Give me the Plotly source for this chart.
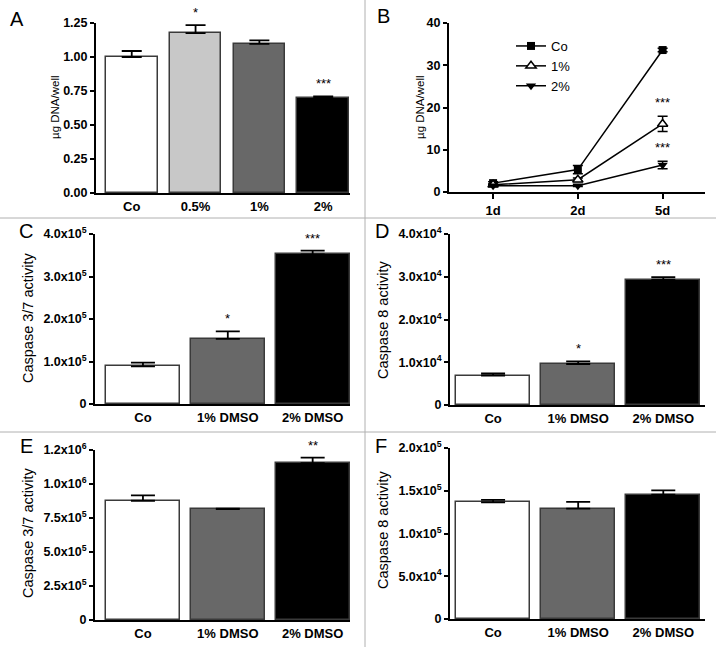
import plotly.graph_objects as go

W, H = 716, 647
FONT = "Liberation Sans, Arial, sans-serif"

# ---------- data ----------
a_cats = ["Co", "0.5%", "1%", "2%"]
a_vals = [1.00, 1.176, 1.096, 0.697]
a_err = [0.044, 0.059, 0.026, 0.014]
a_sig = ["", "*", "", "***"]
a_colors = ["#ffffff", "#c8c8c8", "#686868", "#000000"]

b_days = ["1d", "2d", "5d"]
b_co = [2.1, 5.3, 33.6]
b_co_err = [0.3, 1.0, 0.4]
b_1 = [1.7, 2.9, 16.1]
b_1_err = [0.2, 0.4, 1.8]
b_2 = [1.5, 1.5, 6.4]
b_2_err = [0.2, 0.2, 0.9]
b_sig_1 = ["", "", "***"]
b_sig_2 = ["", "", "***"]

cd_cats = ["Co", "1% DMSO", "2% DMSO"]
cd_colors = ["#ffffff", "#686868", "#000000"]

c_vals = [0.885e5, 1.534e5, 3.52e5]
c_err = [0.09e5, 0.175e5, 0.09e5]
c_sig = ["", "*", "***"]

d_vals = [0.69e4, 0.959e4, 2.93e4]
d_err = [0.05e4, 0.06e4, 0.06e4]
d_sig = ["", "*", "***"]

e_vals = [0.877e6, 0.816e6, 1.154e6]
e_err = [0.04e6, 0.003e6, 0.04e6]
e_sig = ["", "", "**"]

f_vals = [1.365e5, 1.29e5, 1.454e5]
f_err = [0.028e5, 0.08e5, 0.05e5]
f_sig = ["", "", ""]

a_ticks = [0, 0.25, 0.5, 0.75, 1.0, 1.25]
a_ticktext = ["0.00", "0.25", "0.50", "0.75", "1.00", "1.25"]
b_ticks = [0, 10, 20, 30, 40]
c_ticks = [0, 1e5, 2e5, 3e5, 4e5]
c_ticktext = ["0", "1.0x10<sup>5</sup>", "2.0x10<sup>5</sup>", "3.0x10<sup>5</sup>", "4.0x10<sup>5</sup>"]
d_ticks = [0, 1e4, 2e4, 3e4, 4e4]
d_ticktext = ["0", "1.0x10<sup>4</sup>", "2.0x10<sup>4</sup>", "3.0x10<sup>4</sup>", "4.0x10<sup>4</sup>"]
e_ticks = [0, 2.5e5, 5e5, 7.5e5, 1e6, 1.25e6]
e_ticktext = ["0", "2.5x10<sup>5</sup>", "5.0x10<sup>5</sup>", "7.5x10<sup>5</sup>", "1.0x10<sup>6</sup>", "1.2x10<sup>6</sup>"]
f_ticks = [0, 5e4, 1e5, 1.5e5, 2e5]
f_ticktext = ["0", "5.0x10<sup>4</sup>", "1.0x10<sup>5</sup>", "1.5x10<sup>5</sup>", "2.0x10<sup>5</sup>"]

# ---------- layout helpers ----------
def xd(x0, x1):
    return [x0 / W, x1 / W]

def yd(top, bottom):
    return [1 - bottom / H, 1 - top / H]

# panel: (x-left, x-right, y-top, y-bottom) in px
panels = {
    "A": (96, 350, 23, 193),
    "B": (449, 705, 23, 192),
    "C": (95, 350, 234, 404),
    "D": (450, 705, 234, 405),
    "E": (95, 350, 450, 620),
    "F": (450, 705, 448, 619),
}

fig = go.Figure()
annotations = []
SIGFONT = dict(family=FONT, size=13, color="#000")

def bar_panel(idx, cats, vals, errs, colors, sig, width, capw):
    ax = "" if idx == 1 else str(idx)
    fig.add_trace(go.Bar(
        x=cats, y=vals, width=width,
        marker=dict(color=colors, line=dict(color="#3a3a3a", width=1.5)),
        error_y=dict(type="data", array=errs, arrayminus=[0] * len(errs),
                     color="#000000", thickness=1.8, width=capw, visible=True),
        xaxis="x" + ax, yaxis="y" + ax, showlegend=False,
    ))
    for c, v, e, s in zip(cats, vals, errs, sig):
        if s:
            annotations.append(dict(x=c, y=v + e, xref="x" + ax, yref="y" + ax,
                                    text=s, showarrow=False, yanchor="bottom", yshift=3,
                                    font=SIGFONT))

bar_panel(1, a_cats, a_vals, a_err, a_colors, a_sig, 0.81, 10)
bar_panel(3, cd_cats, c_vals, c_err, cd_colors, c_sig, 0.87, 12)
bar_panel(4, cd_cats, d_vals, d_err, cd_colors, d_sig, 0.87, 12)
bar_panel(5, cd_cats, e_vals, e_err, cd_colors, e_sig, 0.87, 12)
bar_panel(6, cd_cats, f_vals, f_err, cd_colors, f_sig, 0.87, 12)

# panel B lines
line_style = dict(color="#000000", width=1.5)
fig.add_trace(go.Scatter(x=b_days, y=b_co, name="Co", mode="lines+markers",
                         line=line_style, marker=dict(symbol="square", size=8, color="#000"),
                         error_y=dict(type="data", array=b_co_err, color="#000", thickness=1.5, width=5),
                         xaxis="x2", yaxis="y2"))
fig.add_trace(go.Scatter(x=b_days, y=b_1, name="1%", mode="lines+markers",
                         line=line_style,
                         marker=dict(symbol="triangle-up", size=9, color="#fff", line=dict(color="#000", width=1.5)),
                         error_y=dict(type="data", array=b_1_err, color="#000", thickness=1.5, width=5),
                         xaxis="x2", yaxis="y2"))
fig.add_trace(go.Scatter(x=b_days, y=b_2, name="2%", mode="lines+markers",
                         line=line_style, marker=dict(symbol="triangle-down", size=9, color="#000"),
                         error_y=dict(type="data", array=b_2_err, color="#000", thickness=1.5, width=5),
                         xaxis="x2", yaxis="y2"))
for vals_, errs_, sig_ in ((b_1, b_1_err, b_sig_1), (b_2, b_2_err, b_sig_2)):
    for d, v, e, s in zip(b_days, vals_, errs_, sig_):
        if s:
            annotations.append(dict(x=d, y=v + e, xref="x2", yref="y2", text=s, showarrow=False,
                                    yanchor="bottom", yshift=4, font=SIGFONT))

xtickfont = dict(family=FONT, size=13, color="#000", weight="bold")
ytickfont = dict(family=FONT, size=12.5, color="#000", weight="bold")

def x_axis(p, rng, anchor, ticks=False):
    x0, x1, t, b = panels[p]
    return dict(domain=xd(x0, x1), anchor=anchor, range=rng, showline=True, linecolor="#000",
                linewidth=2, ticks="outside" if ticks else "", ticklen=5 if ticks else 0,
                tickwidth=2, tickcolor="#000", tickfont=xtickfont, showgrid=False,
                zeroline=False, fixedrange=True, automargin=False)

def y_axis(p, rng, anchor, tv, tt=None):
    x0, x1, t, b = panels[p]
    d = dict(domain=yd(t, b), anchor=anchor, range=rng, showline=True, linecolor="#000",
             linewidth=2, ticks="outside", ticklen=4, tickwidth=2, tickcolor="#000",
             tickfont=ytickfont, showgrid=False, zeroline=False, tickmode="array",
             tickvals=tv, fixedrange=True, automargin=False)
    if tt is not None:
        d["ticktext"] = tt
    return d

layout = dict(
    width=W, height=H, margin=dict(l=0, r=0, t=0, b=0, pad=0, autoexpand=False),
    paper_bgcolor="#fff", plot_bgcolor="rgba(0,0,0,0)",
    font=dict(family=FONT, color="#000"),
    bargap=0,
    legend=dict(x=511 / W, y=1 - 31 / H, xanchor="left", yanchor="top",
                bgcolor="rgba(0,0,0,0)", font=dict(family=FONT, size=13, color="#000"),
                itemwidth=30, tracegroupgap=4),
    xaxis=x_axis("A", [-0.56, 3.42], "y"),
    xaxis2=x_axis("B", [-0.52, 2.5], "y2", ticks=True),
    xaxis3=x_axis("C", [-0.565, 2.44], "y3"),
    xaxis4=x_axis("D", [-0.506, 2.49], "y4"),
    xaxis5=x_axis("E", [-0.565, 2.44], "y5"),
    xaxis6=x_axis("F", [-0.506, 2.49], "y6"),
    yaxis=y_axis("A", [0, 1.25], "x", a_ticks, a_ticktext),
    yaxis2=y_axis("B", [0, 40], "x2", b_ticks),
    yaxis3=y_axis("C", [0, 4e5], "x3", c_ticks, c_ticktext),
    yaxis4=y_axis("D", [0, 4e4], "x4", d_ticks, d_ticktext),
    yaxis5=y_axis("E", [0, 1.25e6], "x5", e_ticks, e_ticktext),
    yaxis6=y_axis("F", [0, 2e5], "x6", f_ticks, f_ticktext),
)

# axis titles (rotated)
titles = [
    ("µg DNA/well", 55, 107, 11.5),
    ("µg DNA/well", 420, 107, 11.5),
    ("Caspase 3/7 activity", 28, 318, 14.5),
    ("Caspase 8 activity", 383, 320, 14.5),
    ("Caspase 3/7 activity", 28, 533, 14.5),
    ("Caspase 8 activity", 383, 530, 14.5),
]
for txt, px, py, sz in titles:
    annotations.append(dict(text=txt, x=px / W, y=1 - py / H, xref="paper", yref="paper",
                            textangle=-90, showarrow=False, xanchor="center", yanchor="middle",
                            font=dict(family=FONT, size=sz, color="#000")))

letters = [("A", 17, 19), ("B", 383, 16), ("C", 26, 231), ("D", 382, 231), ("E", 26, 446), ("F", 381, 446)]
for t, px, py in letters:
    annotations.append(dict(text=t, x=px / W, y=1 - py / H, xref="paper", yref="paper",
                            showarrow=False, xanchor="center", yanchor="middle",
                            font=dict(family=FONT, size=20, color="#000")))

layout["annotations"] = annotations
layout["shapes"] = [
    dict(type="line", xref="paper", yref="paper", x0=365 / W, x1=365 / W, y0=0, y1=1,
         line=dict(color="#b0b0b0", width=1)),
    dict(type="line", xref="paper", yref="paper", x0=0, x1=1, y0=1 - 218 / H, y1=1 - 218 / H,
         line=dict(color="#b0b0b0", width=1)),
    dict(type="line", xref="paper", yref="paper", x0=0, x1=1, y0=1 - 432 / H, y1=1 - 432 / H,
         line=dict(color="#b0b0b0", width=1)),
]

fig.update_layout(**layout)
fig.write_html("out.html", config={"displayModeBar": False},
               post_script="document.body.style.margin='0';document.body.style.padding='0';")
